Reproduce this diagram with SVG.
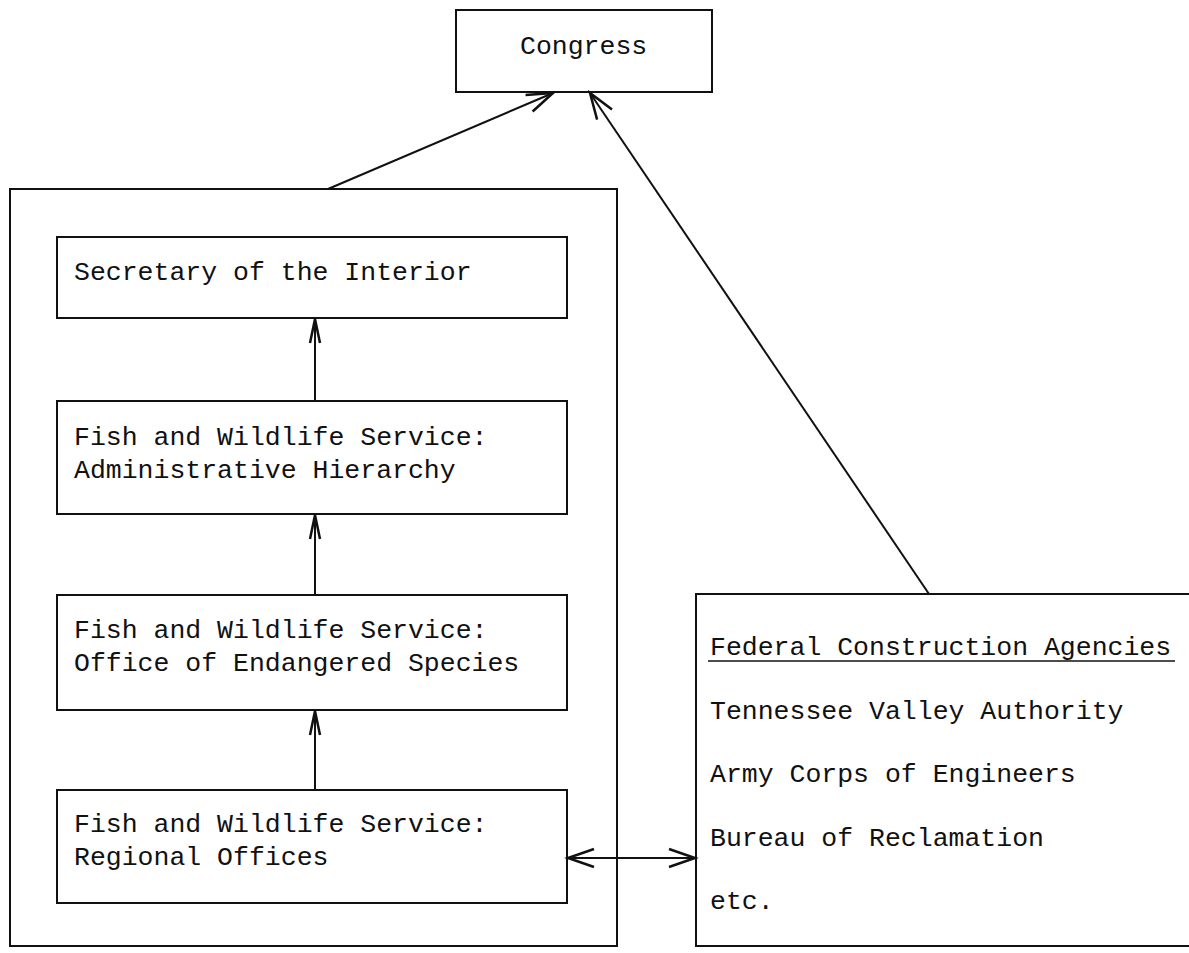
<svg xmlns="http://www.w3.org/2000/svg" width="1189" height="953" viewBox="0 0 1189 953">
<style>
.box{fill:none;stroke:#111;stroke-width:2}
.t{font-family:"Liberation Mono","DejaVu Sans Mono",monospace;font-size:26.5px;fill:#111}
.c{fill:none;stroke:#111;stroke-width:2}
</style>
<defs>
<marker id="ah" markerUnits="userSpaceOnUse" viewBox="-30 -12 34 24" markerWidth="34" markerHeight="24" refX="0" refY="0" orient="auto-start-reverse" overflow="visible">
<path d="M-26,-9 L0,0 L-26,9" fill="none" stroke="#111" stroke-width="2.5"/>
</marker>
<marker id="ahn" markerUnits="userSpaceOnUse" viewBox="-30 -12 34 24" markerWidth="34" markerHeight="24" refX="0" refY="0" orient="auto" overflow="visible">
<path d="M-24,-5 L0,0 L-24,5" fill="none" stroke="#111" stroke-width="2.5"/>
</marker>
</defs>
<rect width="1189" height="953" fill="#fff"/>
<g id="congress">
<rect class="box" x="456" y="10" width="256" height="82"/>
<text class="t" x="520" y="54">Congress</text>
</g>
<g id="interior-dept">
<rect class="box" x="10" y="189" width="607" height="757"/>
</g>
<g id="secretary">
<rect class="box" x="57" y="237" width="510" height="81"/>
<text class="t" x="74" y="280">Secretary of the Interior</text>
</g>
<g id="fws-admin">
<rect class="box" x="57" y="401" width="510" height="113"/>
<text class="t" x="74" y="445">Fish and Wildlife Service:</text>
<text class="t" x="74" y="478">Administrative Hierarchy</text>
</g>
<g id="fws-oes">
<rect class="box" x="57" y="595" width="510" height="115"/>
<text class="t" x="74" y="638">Fish and Wildlife Service:</text>
<text class="t" x="74" y="671">Office of Endangered Species</text>
</g>
<g id="fws-regional">
<rect class="box" x="57" y="790" width="510" height="113"/>
<text class="t" x="74" y="832">Fish and Wildlife Service:</text>
<text class="t" x="74" y="865">Regional Offices</text>
</g>
<g id="construction-agencies">
<path class="box" d="M1189,594 L696,594 L696,946 L1189,946"/>
<text class="t" x="710" y="655">Federal Construction Agencies</text>
<line x1="708" y1="661" x2="1175" y2="661" stroke="#111" stroke-width="1.5"/>
<text class="t" x="710" y="719">Tennessee Valley Authority</text>
<text class="t" x="710" y="782">Army Corps of Engineers</text>
<text class="t" x="710" y="846">Bureau of Reclamation</text>
<text class="t" x="710" y="909">etc.</text>
</g>
<g id="connectors">
<line class="c" x1="328" y1="189" x2="553" y2="93" marker-end="url(#ah)"/>
<line class="c" x1="929" y1="594" x2="590" y2="93" marker-end="url(#ah)"/>
<line class="c" x1="315" y1="401" x2="315" y2="319" marker-end="url(#ahn)"/>
<line class="c" x1="315" y1="595" x2="315" y2="515" marker-end="url(#ahn)"/>
<line class="c" x1="315" y1="790" x2="315" y2="711" marker-end="url(#ahn)"/>
<line class="c" x1="568" y1="858" x2="695" y2="858" marker-start="url(#ah)" marker-end="url(#ah)"/>
</g>
</svg>
